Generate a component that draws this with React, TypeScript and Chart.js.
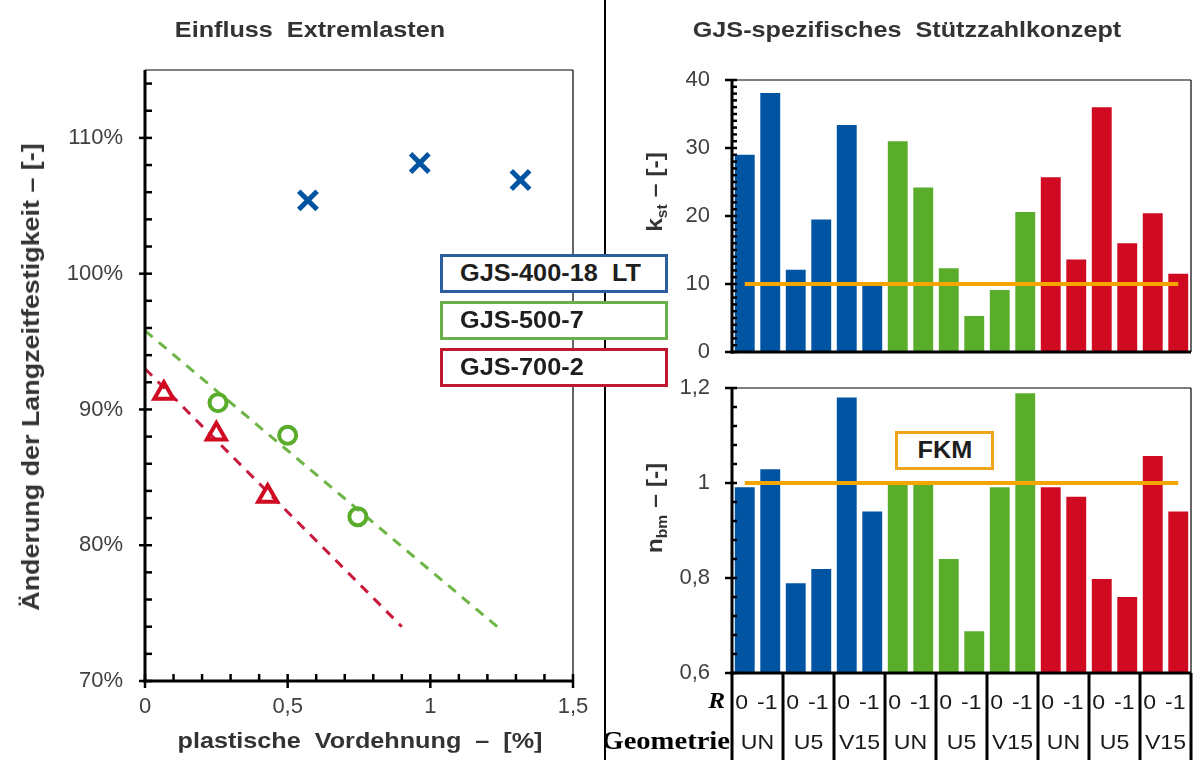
import React, { useEffect, useRef } from "react";
import { Chart, registerables } from "chart.js";

Chart.register(...registerables);

// ---------------- Left chart: Einfluss Extremlasten ----------------
const strain400 = [0.571, 0.963, 1.316];
const strength400 = [105.4, 108.15, 106.9];
const strain500 = [0.256, 0.5, 0.746];
const strength500 = [90.5, 88.1, 82.1];
const strain700 = [0.066, 0.25, 0.43];
const strength700 = [91.2, 88.2, 83.6];
const trend500Strain = [0, 1.24];
const trend500Strength = [95.8, 73.9];
const trend700Strain = [0, 0.9];
const trend700Strength = [93.0, 74.0];
const leftXTickLabels = ["0", "0,5", "1", "1,5"];
const leftYTickLabels = ["70%", "80%", "90%", "100%", "110%"];

// ---------------- Right charts: GJS-spezifisches Stützzahlkonzept ----------------
const materials = ["GJS-400-18  LT", "GJS-500-7", "GJS-700-2"];
const geometries = ["UN", "U5", "V15"];
const rRatios = ["0", "-1"];
const kst400 = [29.0, 38.1, 12.1, 19.5, 33.4, 9.7];
const kst500 = [31.0, 24.2, 12.3, 5.3, 9.1, 20.6];
const kst700 = [25.7, 13.6, 36.0, 16.0, 20.4, 11.5];
const nbm400 = [0.991, 1.029, 0.789, 0.819, 1.18, 0.94];
const nbm500 = [0.998, 0.998, 0.84, 0.688, 0.991, 1.189];
const nbm700 = [0.991, 0.971, 0.798, 0.76, 1.057, 0.94];
const kstFkm = 10;
const nbmFkm = 1;
const kstTickLabels = ["0", "10", "20", "30", "40"];
const nbmTickLabels = ["0,6", "0,8", "1", "1,2"];

const BLUE = "#0054A2";
const GREEN = "#5AAD2B";
const RED = "#D00A20";
const ORANGE = "#F5A500";
const TICK_COLOR = "#404040";
const SANS = '"Liberation Sans", Arial, sans-serif';
const SERIF = '"Liberation Serif", "Times New Roman", serif';
const TICK_FONT = { family: SANS, size: 22 };
const STRETCH = 1.12;

const materialColors = [BLUE, GREEN, RED];
const kstByMaterial = [kst400, kst500, kst700];
const nbmByMaterial = [nbm400, nbm500, nbm700];

type Cat = { key: string; material: number; geometry: string; r: string };
const categories: Cat[] = [];
materials.forEach((m, mi) =>
  geometries.forEach((g) =>
    rRatios.forEach((r) => categories.push({ key: `${m}|${g}|${r}`, material: mi, geometry: g, r }))
  )
);
const categoryKeys = categories.map((c) => c.key);
const barColors = categories.map((c) => materialColors[c.material]);
const kstValues = kstByMaterial.flat();
const nbmValues = nbmByMaterial.flat();

const isMult = (v: number, s: number) => Math.abs(v / s - Math.round(v / s)) < 1e-6;

function line(ctx: CanvasRenderingContext2D, x1: number, y1: number, x2: number, y2: number) {
  ctx.beginPath();
  ctx.moveTo(x1, y1);
  ctx.lineTo(x2, y2);
  ctx.stroke();
}

function stretchedText(ctx: CanvasRenderingContext2D, text: string, x: number, y: number, sx = 1.1) {
  ctx.save();
  ctx.translate(x, y);
  ctx.scale(sx, 1);
  ctx.fillText(text, 0, 0);
  ctx.restore();
}

function drawFrame(ctx: CanvasRenderingContext2D, a: any) {
  ctx.strokeStyle = "#000";
  ctx.lineWidth = 1.2;
  line(ctx, a.left, a.top, a.right, a.top);
  line(ctx, a.right, a.top, a.right, a.bottom);
  ctx.lineWidth = 3;
  line(ctx, a.left, a.top, a.left, a.bottom + 1.5);
  line(ctx, a.left - 1.5, a.bottom, a.right, a.bottom);
}

const leftAxesPlugin = {
  id: "leftAxes",
  afterDatasetsDraw(chart: any) {
    const { ctx, chartArea: a, scales } = chart;
    ctx.save();
    drawFrame(ctx, a);
    ctx.lineWidth = 2.5;
    for (const t of scales.y.ticks) {
      if (!isMult(t.value, 2)) continue;
      const py = scales.y.getPixelForValue(t.value);
      const major = isMult(t.value, 10);
      line(ctx, major ? a.left - 6 : a.left, py, a.left + 7, py);
    }
    for (const t of scales.x.ticks) {
      const px = scales.x.getPixelForValue(t.value);
      const major = isMult(t.value, 0.5);
      line(ctx, px, a.bottom - 7, px, major ? a.bottom + 7 : a.bottom);
    }
    ctx.restore();
  },
};

function rightAxesPlugin(id: string, yMin: number, majorStep: number) {
  return {
    id,
    afterDatasetsDraw(chart: any) {
      const { ctx, chartArea: a, scales } = chart;
      ctx.save();
      drawFrame(ctx, a);
      ctx.lineWidth = 2.5;
      for (const t of scales.y.ticks) {
        const py = scales.y.getPixelForValue(t.value);
        const major = isMult(t.value - yMin, majorStep);
        line(ctx, a.left - (major ? 7 : 0), py, a.left + 5, py);
      }
      ctx.restore();
    },
  };
}

const tablePlugin = {
  id: "geometryTable",
  afterDraw(chart: any) {
    const { ctx, chartArea: a, scales } = chart;
    const x = scales.x;
    const n = categories.length;
    const step = x.getPixelForValue(1) - x.getPixelForValue(0);
    ctx.save();
    ctx.strokeStyle = "#000";
    ctx.lineWidth = 3;
    for (let g = 0; g <= n / 2; g++) {
      const px = g < n / 2 ? x.getPixelForValue(2 * g) - step / 2 : x.getPixelForValue(n - 1) + step / 2;
      line(ctx, px, a.bottom, px, chart.height);
    }
    ctx.fillStyle = "#1a1a1a";
    ctx.font = `21px ${SANS}`;
    ctx.textAlign = "center";
    ctx.textBaseline = "middle";
    categories.forEach((c, i) => stretchedText(ctx, c.r, x.getPixelForValue(i) + (i % 2 === 0 ? -3 : -3), a.bottom + 30));
    for (let g = 0; g < n / 2; g++) {
      const cx = (x.getPixelForValue(2 * g) + x.getPixelForValue(2 * g + 1)) / 2;
      stretchedText(ctx, categories[2 * g].geometry, cx, a.bottom + 70);
    }
    ctx.textAlign = "right";
    ctx.fillStyle = "#000";
    ctx.font = `italic bold 23px ${SERIF}`;
    stretchedText(ctx, "R", a.left - 7, a.bottom + 29);
    ctx.font = `bold 26px ${SERIF}`;
    stretchedText(ctx, "Geometrie", a.left - 2, a.bottom + 69);
    ctx.restore();
  },
};

function pts(xs: number[], ys: number[]) {
  return xs.map((x, i) => ({ x, y: ys[i] }));
}

const noVerticalPadding = (width: number) => (s: any) => {
  s.width = width;
  s.paddingTop = 0;
  s.paddingBottom = 0;
};

export default function App() {
  const leftRef = useRef<HTMLCanvasElement>(null);
  const kstRef = useRef<HTMLCanvasElement>(null);
  const nbmRef = useRef<HTMLCanvasElement>(null);

  useEffect(() => {
    const charts: Chart[] = [];

    charts.push(
      new Chart(leftRef.current!, {
        type: "scatter",
        data: {
          datasets: [
            {
              label: materials[0],
              data: pts(strain400, strength400),
              pointStyle: "crossRot",
              pointRadius: 13,
              pointBorderWidth: 5,
              borderWidth: 5,
              borderColor: BLUE,
              backgroundColor: BLUE,
              pointBorderColor: BLUE,
            },
            {
              label: materials[1],
              data: pts(strain500, strength500),
              pointStyle: "circle",
              pointRadius: 8.5,
              pointBorderWidth: 4,
              borderWidth: 4,
              borderColor: GREEN,
              pointBorderColor: GREEN,
              backgroundColor: "rgba(0,0,0,0)",
              pointBackgroundColor: "rgba(0,0,0,0)",
            },
            {
              label: materials[2],
              data: pts(strain700, strength700),
              pointStyle: "triangle",
              pointRadius: 11,
              pointBorderWidth: 4,
              borderWidth: 4,
              borderColor: RED,
              pointBorderColor: RED,
              backgroundColor: "rgba(0,0,0,0)",
              pointBackgroundColor: "rgba(0,0,0,0)",
            },
            {
              label: "Trend GJS-500-7",
              data: pts(trend500Strain, trend500Strength),
              showLine: true,
              borderColor: "#6DB544",
              borderWidth: 3,
              borderDash: [10, 8],
              pointRadius: 0,
            },
            {
              label: "Trend GJS-700-2",
              data: pts(trend700Strain, trend700Strength),
              showLine: true,
              borderColor: "#C81A3C",
              borderWidth: 3,
              borderDash: [10, 8],
              pointRadius: 0,
            },
          ],
        },
        options: {
          responsive: false,
          animation: false,
          layout: { padding: { left: 0, right: 31, top: 70, bottom: 0 } },
          plugins: { legend: { display: false }, tooltip: { enabled: false } },
          scales: {
            x: {
              type: "linear",
              min: 0,
              max: 1.5,
              grid: { display: false, drawTicks: false },
              border: { display: false },
              ticks: {
                stepSize: 0.1,
                autoSkip: false,
                maxRotation: 0,
                padding: 13,
                color: TICK_COLOR,
                font: TICK_FONT,
                callback: (v: any) => (isMult(v, 0.5) ? leftXTickLabels[Math.round(v / 0.5)] : ""),
              },
              afterFit: (s: any) => {
                s.height = 79;
              },
            },
            y: {
              type: "linear",
              min: 70,
              max: 115,
              grid: { display: false, drawTicks: false },
              border: { display: false },
              ticks: {
                stepSize: 2,
                includeBounds: false,
                autoSkip: false,
                padding: 22,
                color: TICK_COLOR,
                font: TICK_FONT,
                callback: (v: any) => (isMult(v, 10) ? leftYTickLabels[Math.round((v - 70) / 10)] : ""),
              },
              afterFit: noVerticalPadding(145),
            },
          },
        },
        plugins: [leftAxesPlugin],
      } as any)
    );

    const barChart = (
      canvas: HTMLCanvasElement,
      values: number[],
      fkm: number,
      yMin: number,
      yMax: number,
      minor: number,
      major: number,
      labels: string[],
      top: number,
      xHeight: number,
      id: string,
      extra: any[]
    ) =>
      new Chart(canvas, {
        type: "bar",
        data: {
          labels: categoryKeys,
          datasets: [
            {
              type: "line",
              label: "FKM",
              data: [
                { x: categoryKeys[0], y: fkm },
                { x: categoryKeys[categoryKeys.length - 1], y: fkm },
              ],
              borderColor: ORANGE,
              borderWidth: 4,
              pointRadius: 0,
              order: 0,
            },
            {
              type: "bar",
              label: "Werte",
              data: values,
              backgroundColor: barColors,
              barPercentage: 0.78,
              categoryPercentage: 1,
              order: 1,
            },
          ],
        },
        options: {
          responsive: false,
          animation: false,
          layout: { padding: { left: 0, right: 3, top, bottom: 0 } },
          plugins: { legend: { display: false }, tooltip: { enabled: false } },
          scales: {
            x: {
              grid: { display: false, drawTicks: false },
              border: { display: false },
              ticks: { display: false },
              afterFit: (s: any) => {
                s.height = xHeight;
              },
            },
            y: {
              min: yMin,
              max: yMax,
              grid: { display: false, drawTicks: false },
              border: { display: false },
              ticks: {
                stepSize: minor,
                autoSkip: false,
                padding: 22,
                color: TICK_COLOR,
                font: TICK_FONT,
                callback: (v: any) => (isMult(v - yMin, major) ? labels[Math.round((v - yMin) / major)] : ""),
              },
              afterFit: noVerticalPadding(127),
            },
          },
        },
        plugins: [rightAxesPlugin(id, yMin, major), ...extra],
      } as any);

    charts.push(barChart(kstRef.current!, kstValues, kstFkm, 0, 40, 1, 10, kstTickLabels, 30, 18, "kstAxes", []));
    charts.push(barChart(nbmRef.current!, nbmValues, nbmFkm, 0.6, 1.2, 0.04, 0.2, nbmTickLabels, 28, 87, "nbmAxes", [tablePlugin]));

    return () => charts.forEach((c) => c.destroy());
  }, []);

  const center = (x: number, y: number, size: number, rot = false): React.CSSProperties => ({
    position: "absolute",
    left: x,
    top: y,
    transform: `translate(-50%, -50%)${rot ? " rotate(-90deg)" : ""} scaleX(${STRETCH})`,
    whiteSpace: "pre",
    font: `bold ${size}px ${SANS}`,
    color: "#333",
    lineHeight: 1,
  });
  const legendBox = (top: number, color: string): React.CSSProperties => ({
    position: "absolute",
    left: 440,
    top,
    width: 228,
    height: 39,
    boxSizing: "border-box",
    border: `3px solid ${color}`,
    background: "#fff",
    paddingLeft: 17,
    display: "flex",
    alignItems: "center",
    whiteSpace: "pre",
    font: `bold 23px ${SANS}`,
    color: "#1e1e1e",
  });
  const stretchSpan: React.CSSProperties = {
    display: "inline-block",
    transform: "scaleX(1.1)",
    transformOrigin: "left center",
  };

  return (
    <div
      style={{
        position: "fixed",
        left: 0,
        top: 0,
        width: 1194,
        height: 760,
        background: "#fff",
        overflow: "hidden",
      }}
    >
      <canvas ref={leftRef} width={604} height={760} style={{ position: "absolute", left: 0, top: 0 }} />
      <canvas ref={kstRef} width={589} height={320} style={{ position: "absolute", left: 605, top: 50 }} />
      <canvas ref={nbmRef} width={589} height={400} style={{ position: "absolute", left: 605, top: 360 }} />
      <div style={{ position: "absolute", left: 604, top: 0, width: 1.5, height: 760, background: "#000" }} />

      <div style={center(310, 30, 22.5)}>{"Einfluss  Extremlasten"}</div>
      <div style={center(907, 30, 22.5)}>{"GJS-spezifisches  Stützzahlkonzept"}</div>
      <div style={center(31, 377, 24, true)}>{"Änderung der Langzeitfestigkeit – [-]"}</div>
      <div style={center(360, 741, 22.5)}>{"plastische  Vordehnung  –  [%]"}</div>
      <div style={center(655, 192, 22, true)}>
        k<span style={{ fontSize: 14, position: "relative", top: 5 }}>st</span>
        {" – [-]"}
      </div>
      <div style={center(655, 508, 22, true)}>
        n<span style={{ fontSize: 14, position: "relative", top: 5 }}>bm</span>
        {" – [-]"}
      </div>

      <div style={legendBox(254, "#2A5E9E")}>
        <span style={stretchSpan}>{materials[0]}</span>
      </div>
      <div style={legendBox(301, "#6AB04A")}>
        <span style={stretchSpan}>{materials[1]}</span>
      </div>
      <div style={legendBox(348, "#C0182F")}>
        <span style={stretchSpan}>{materials[2]}</span>
      </div>

      <div
        style={{
          position: "absolute",
          left: 895,
          top: 431,
          width: 99,
          height: 39,
          boxSizing: "border-box",
          border: "3px solid #F0A41C",
          background: "#fff",
          display: "flex",
          alignItems: "center",
          justifyContent: "center",
          font: `bold 23px ${SANS}`,
          color: "#1e1e1e",
        }}
      >
        <span style={{ display: "inline-block", transform: "scaleX(1.1)" }}>FKM</span>
      </div>
    </div>
  );
}
